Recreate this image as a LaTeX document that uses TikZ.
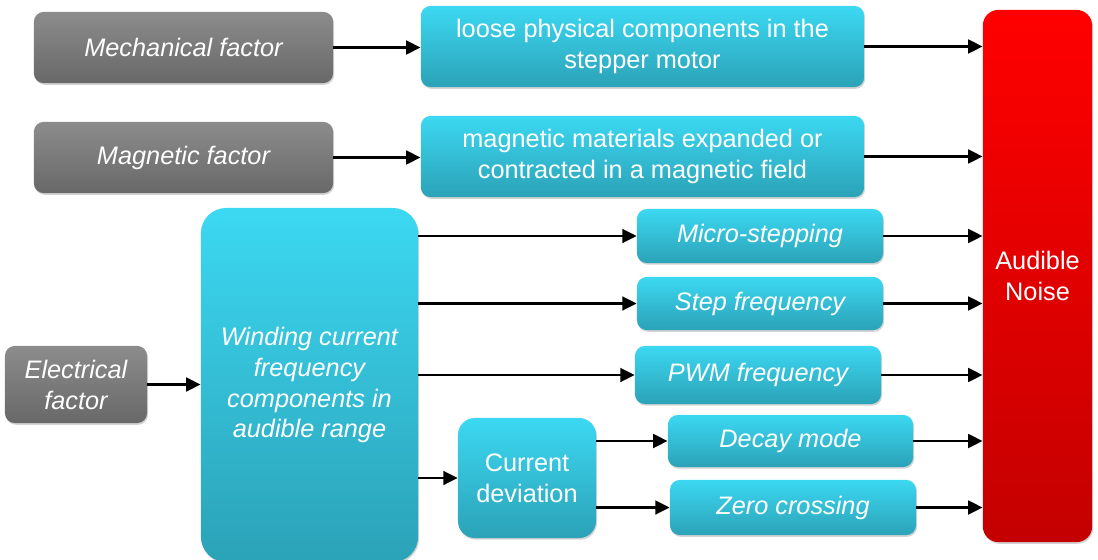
\documentclass[tikz,border=0pt]{standalone}
\usepackage{fontspec}
\setmainfont{Liberation Sans}
\usetikzlibrary{arrows.meta,shadows}
\definecolor{factortop}{HTML}{8C8C8C}
\definecolor{factorbot}{HTML}{686868}
\definecolor{causetop}{HTML}{3CD8F2}
\definecolor{causebot}{HTML}{2BA2B7}
\definecolor{noisetop}{HTML}{FF0000}
\definecolor{noisebot}{HTML}{C40000}
\newcommand{\boxfont}{\fontsize{18}{22}\selectfont}
\tikzset{factor/.style={rectangle,rounded corners=7pt,draw=none,top color=factortop,
 bottom color=factorbot,text=white,font=\boxfont\itshape,align=center,inner sep=2pt,
 drop shadow={opacity=.35,shadow xshift=.7pt,shadow yshift=-1.2pt}},
 cause/.style={factor,top color=causetop,bottom color=causebot,font=\boxfont},
 subcause/.style={cause,font=\boxfont\itshape},
 noise/.style={factor,top color=noisetop,bottom color=noisebot,font=\boxfont,
  rounded corners=11pt},
 link/.style={draw=black,line width=2.1pt,-{Triangle[length=3.6mm,width=3.4mm]}}}

\begin{document}
\begin{tikzpicture}[x=0.025cm,y=-0.025cm]
 \useasboundingbox (0,0) rectangle (1098,559);
 \node[factor,minimum width=7.48cm,minimum height=1.78cm] (mech) at (183.5,47.5) {Mechanical factor};
 \node[factor,minimum width=7.48cm,minimum height=1.78cm] (magn) at (183.5,157.5) {Magnetic factor};
 \node[factor,minimum width=3.55cm,minimum height=1.93cm] (elec) at (76,384.5) {Electrical\\factor};
 \node[cause,minimum width=11.08cm,minimum height=2.03cm] (loose) at (642.5,46.5)
  {loose physical components in the\\stepper motor};
 \node[cause,minimum width=11.08cm,minimum height=2.03cm] (magmat) at (642.5,156.5)
  {magnetic materials expanded or\\contracted in a magnetic field};
 \node[subcause,minimum width=5.43cm,minimum height=8.85cm,rounded corners=18pt] (wind) at (309.5,385)
  {Winding current\\frequency\\components in\\audible range};
 \node[subcause,minimum width=6.15cm,minimum height=1.35cm] (micro) at (760,236) {Micro-stepping};
 \node[subcause,minimum width=6.15cm,minimum height=1.33cm] (stepf) at (760,303.5) {Step frequency};
 \node[subcause,minimum width=6.15cm,minimum height=1.45cm] (pwm) at (758,375) {PWM frequency};
 \node[cause,minimum width=3.45cm,minimum height=3cm,rounded corners=12pt] (curdev) at (527,478)
  {Current\\deviation};
 \node[subcause,minimum width=6.13cm,minimum height=1.3cm] (decay) at (790.5,441) {Decay mode};
 \node[subcause,minimum width=6.15cm,minimum height=1.38cm] (zero) at (793,507.5) {Zero crossing};
 \node[noise,minimum width=2.73cm,minimum height=13.3cm] (audible) at (1037.5,276) {Audible\\Noise};
 \draw[link] (mech.east) -- (mech.east -| loose.west);
 \draw[link] (magn.east) -- (magn.east -| magmat.west);
 \draw[link] (elec.east) -- (elec.east -| wind.west);
 \draw[link] (loose.east) -- (loose.east -| audible.west);
 \draw[link] (magmat.east) -- (magmat.east -| audible.west);
 \draw[link] (wind.east |- micro) -- (micro.west);
 \draw[link] (wind.east |- stepf) -- (stepf.west);
 \draw[link] (wind.east |- pwm) -- (pwm.west);
 \draw[link] (wind.east |- curdev) -- (curdev.west);
 \draw[link] (curdev.east |- decay) -- (decay.west);
 \draw[link] (curdev.east |- zero) -- (zero.west);
 \draw[link] (micro.east) -- (micro.east -| audible.west);
 \draw[link] (stepf.east) -- (stepf.east -| audible.west);
 \draw[link] (pwm.east) -- (pwm.east -| audible.west);
 \draw[link] (decay.east) -- (decay.east -| audible.west);
 \draw[link] (zero.east) -- (zero.east -| audible.west);
\end{tikzpicture}
\end{document}
